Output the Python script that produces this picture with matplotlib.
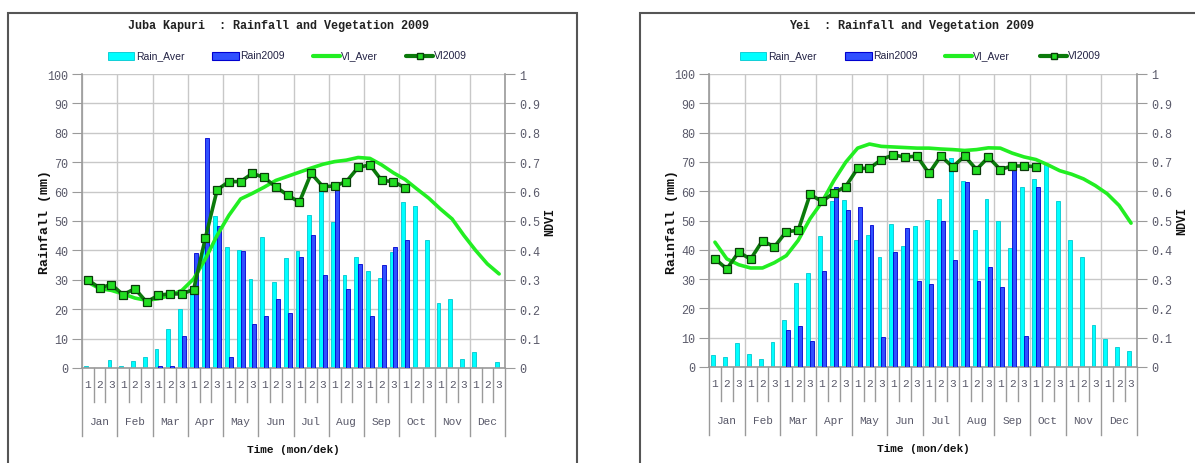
import matplotlib
matplotlib.use("Agg")
import matplotlib.pyplot as plt
from matplotlib.patches import Rectangle
from matplotlib.lines import Line2D
import matplotlib.transforms as mtransforms

# ---- data (36 dekads, Jan..Dec) ----
months = ["Jan", "Feb", "Mar", "Apr", "May", "Jun",
          "Jul", "Aug", "Sep", "Oct", "Nov", "Dec"]
dekads = ["1", "2", "3"] * 12

# Juba Kapuri
juba_rain_aver = [0.8, 0, 2.7, 0.8, 2.4, 3.6, 6.5, 13.2, 20, 27, 41.2, 51.7,
                  41.1, 40.3, 30.3, 44.5, 29.4, 37.4, 39.7, 52.2, 60.9, 49.6,
                  31.8, 37.7, 33.1, 30.7, 39.6, 56.3, 55, 43.7, 22.1, 23.6,
                  3.2, 5.3, 0, 1.9]
juba_rain_2009 = [0, 0, 0, 0, 0, 0, 0.7, 0.7, 10.9, 39, 78.2, 48.3,
                  3.7, 39.9, 15.1, 17.7, 23.6, 18.7, 37.8, 45.4, 31.5, 60.6,
                  27, 35.3, 17.6, 35.2, 41, 43.4]
juba_vi_aver = [0.292, 0.27, 0.264, 0.252, 0.238, 0.23, 0.236, 0.247, 0.264,
                0.303, 0.371, 0.451, 0.519, 0.575, 0.594, 0.615, 0.638, 0.652,
                0.666, 0.68, 0.693, 0.702, 0.707, 0.716, 0.713, 0.691, 0.664,
                0.641, 0.609, 0.578, 0.541, 0.507, 0.451, 0.40, 0.354, 0.32]
juba_vi_2009 = [0.30, 0.272, 0.284, 0.249, 0.27, 0.224, 0.248, 0.252, 0.252,
                0.267, 0.442, 0.606, 0.634, 0.634, 0.662, 0.648, 0.616, 0.588,
                0.564, 0.662, 0.617, 0.619, 0.634, 0.682, 0.691, 0.638, 0.634,
                0.613]

# Yei
yei_rain_aver = [4.2, 3.3, 8.3, 4.5, 2.8, 8.7, 15.9, 28.6, 32, 44.7, 56.8, 57,
                 43.4, 45.1, 37.5, 48.9, 41.3, 48.1, 50.2, 57.4, 71.4, 63.6,
                 46.8, 57.4, 49.8, 40.6, 61.4, 64.2, 69.2, 56.6, 43.4, 37.5,
                 14.2, 9.7, 6.7, 5.5]
yei_rain_2009 = [0, 0, 0, 0, 0, 0, 12.7, 14, 8.9, 32.6, 61.4, 53.6,
                 54.5, 48.6, 10.1, 39.4, 47.4, 29.2, 28.3, 49.9, 36.4, 63,
                 29.5, 34.1, 27.4, 67.8, 10.6, 61.4]
yei_vi_aver = [0.426, 0.369, 0.349, 0.338, 0.338, 0.356, 0.38, 0.432, 0.506,
               0.563, 0.636, 0.699, 0.747, 0.761, 0.753, 0.751, 0.749, 0.747,
               0.747, 0.744, 0.742, 0.739, 0.742, 0.748, 0.747, 0.73, 0.717,
               0.708, 0.69, 0.67, 0.658, 0.642, 0.619, 0.591, 0.551, 0.491]
yei_vi_2009 = [0.369, 0.335, 0.392, 0.368, 0.431, 0.41, 0.462, 0.466, 0.589,
               0.565, 0.594, 0.616, 0.678, 0.678, 0.708, 0.724, 0.716, 0.72,
               0.661, 0.72, 0.683, 0.72, 0.674, 0.716, 0.674, 0.686, 0.686,
               0.684]

# ---- style ----
W, H = 1195, 464
CYAN, CYAN_EDGE = "#00ffff", "#00c8d0"
BLUE, BLUE_EDGE = "#3050ff", "#0000d0"
VI_AVER_C = "#22ee22"
VI_2009_C = "#0b7a0b"
MARK_FACE = "#22dd22"
GRID_C = "#c8c8c8"
AXIS_C = "#9a9a9a"
TICK_TXT = "#5a5a6a"
MONO = "Liberation Mono"
NARROW = ["Liberation Sans Narrow", "Liberation Sans", "DejaVu Sans"]

fig = plt.figure(figsize=(W / 100, H / 100), dpi=100)
fig.patch.set_facecolor("white")


def fx(x):
    return x / W


def fy(y):
    return 1 - y / H


def draw_panel(ax_px, title, title_x, leg_x, rain_aver, rain_2009, vi_aver, vi_2009):
    x0, y0, x1, y1 = ax_px
    ax = fig.add_axes([fx(x0), fy(y1), fx(x1 - x0), (y1 - y0) / H])
    n = len(rain_aver)
    xs = [i + 0.5 for i in range(n)]

    # bars
    ax.bar([i + 0.5 - 0.16 for i in range(len(rain_aver))], rain_aver, width=0.33,
           color=CYAN, edgecolor=CYAN_EDGE, linewidth=0.6, zorder=2)
    ax.bar([i + 0.5 + 0.17 for i in range(len(rain_2009))], rain_2009, width=0.33,
           color=BLUE, edgecolor=BLUE_EDGE, linewidth=0.6, zorder=3)

    ax.set_xlim(0, 36)
    ax.set_ylim(0, 100)
    ax.set_yticks(range(0, 101, 10))
    ax.set_xticks(range(0, 37, 3))
    ax.set_xticklabels([])
    ax.tick_params(axis="x", length=0)
    ax.tick_params(axis="y", colors=AXIS_C, labelcolor=TICK_TXT, length=7,
                   width=0.8, labelsize=8.5, pad=3)
    for lab in ax.get_yticklabels():
        lab.set_family(MONO)
    ax.grid(True, color=GRID_C, linewidth=1.0, zorder=0)
    ax.set_axisbelow(True)
    for s in ["left", "right", "bottom", "top"]:
        ax.spines[s].set_color(AXIS_C)
        ax.spines[s].set_linewidth(1.2)
    ax.spines["top"].set_visible(False)

    # category axis below: dekads and months
    trans = mtransforms.blended_transform_factory(ax.transData, ax.transAxes)
    h = y1 - y0
    for k in range(37):
        lower = -68 / h if k % 3 == 0 else -34 / h
        ax.plot([k, k], [0, lower], color=AXIS_C, lw=1.0, transform=trans,
                clip_on=False)
    for i, d in enumerate(dekads):
        ax.text(i + 0.5, -16 / h, d, transform=trans, ha="center", va="center",
                fontsize=8, family=MONO, color=TICK_TXT)
    for m, name in enumerate(months):
        ax.text(3 * m + 1.5, -53 / h, name, transform=trans, ha="center",
                va="center", fontsize=8, family=MONO, color=TICK_TXT)
    ax.text(18, -81 / h, "Time (mon/dek)", transform=trans, ha="center",
            va="center", fontsize=8, family=MONO, weight="bold", color="#111111")
    ax.set_ylabel("Rainfall (mm)", family=MONO, weight="bold",
                  fontsize=9.5, color="#111111", labelpad=-3)

    # NDVI on secondary axis
    ax2 = ax.twinx()
    ax2.set_ylim(0, 1)
    ax2.set_yticks([i / 10 for i in range(11)])
    ax2.set_yticklabels(["0", "0.1", "0.2", "0.3", "0.4", "0.5", "0.6", "0.7",
                         "0.8", "0.9", "1"])
    ax2.tick_params(axis="y", colors=AXIS_C, labelcolor=TICK_TXT, length=7,
                    width=0.8, labelsize=8.5, pad=3)
    for lab in ax2.get_yticklabels():
        lab.set_family(MONO)
    for s in ["left", "right", "bottom", "top"]:
        ax2.spines[s].set_visible(False)
    ax2.plot(xs, vi_aver, color=VI_AVER_C, lw=2.6, solid_capstyle="round", zorder=4)
    ax2.plot(xs[:len(vi_2009)], vi_2009, color=VI_2009_C, lw=2.6, marker="s",
             markersize=5.5, markerfacecolor=MARK_FACE, markeredgecolor="#0a3a0a",
             markeredgewidth=0.9, zorder=5)
    ax2.set_ylabel("NDVI", family=MONO, weight="bold", fontsize=8.5,
                   color="#111111", rotation=90, labelpad=3)

    # title
    fig.text(fx(title_x), fy(26), title, ha="center", va="center", family=MONO,
             weight="bold", fontsize=8.5, color="#222222")

    # legend
    names = ["Rain_Aver", "Rain2009", "VI_Aver", "VI2009"]
    for k, (lx, name) in enumerate(zip(leg_x, names)):
        if k == 0:
            fig.add_artist(Rectangle((fx(lx), fy(61)), fx(26), 8 / H,
                                     transform=fig.transFigure, facecolor=CYAN,
                                     edgecolor=CYAN_EDGE, lw=0.6))
        elif k == 1:
            fig.add_artist(Rectangle((fx(lx), fy(61)), fx(27), 8 / H,
                                     transform=fig.transFigure, facecolor=BLUE,
                                     edgecolor=BLUE_EDGE, lw=0.8))
        elif k == 2:
            fig.add_artist(Line2D([fx(lx), fx(lx + 27)], [fy(57), fy(57)],
                                  transform=fig.transFigure, color=VI_AVER_C,
                                  lw=3, solid_capstyle="round"))
        else:
            fig.add_artist(Line2D([fx(lx), fx(lx + 27)], [fy(57), fy(57)],
                                  transform=fig.transFigure, color=VI_2009_C,
                                  lw=3, solid_capstyle="round"))
            fig.add_artist(Line2D([fx(lx + 13.5)], [fy(57)],
                                  transform=fig.transFigure, marker="s",
                                  markersize=5, markerfacecolor=MARK_FACE,
                                  markeredgecolor="#0a3a0a", lw=0))
        fig.text(fx(lx + 28), fy(56), name, ha="left", va="center", family=NARROW,
                 fontsize=7.5, color="#222244")
    return ax


# panel borders
fig.add_artist(Rectangle((fx(8), fy(470)), fx(577 - 8), (470 - 14) / H,
                         transform=fig.transFigure, fill=False,
                         edgecolor="#555555", lw=1.5))
fig.add_artist(Rectangle((fx(640), fy(470)), fx(1210 - 640), (470 - 14) / H,
                         transform=fig.transFigure, fill=False,
                         edgecolor="#555555", lw=1.5))

draw_panel((82, 75, 505, 369), "Juba Kapuri  : Rainfall and Vegetation 2009", 278,
           [108, 212, 313, 406], juba_rain_aver, juba_rain_2009,
           juba_vi_aver, juba_vi_2009)
draw_panel((709, 75, 1137, 368), "Yei  : Rainfall and Vegetation 2009", 912,
           [740, 845, 945, 1040], yei_rain_aver, yei_rain_2009,
           yei_vi_aver, yei_vi_2009)

fig.savefig("out.png", dpi=100, facecolor="white")
